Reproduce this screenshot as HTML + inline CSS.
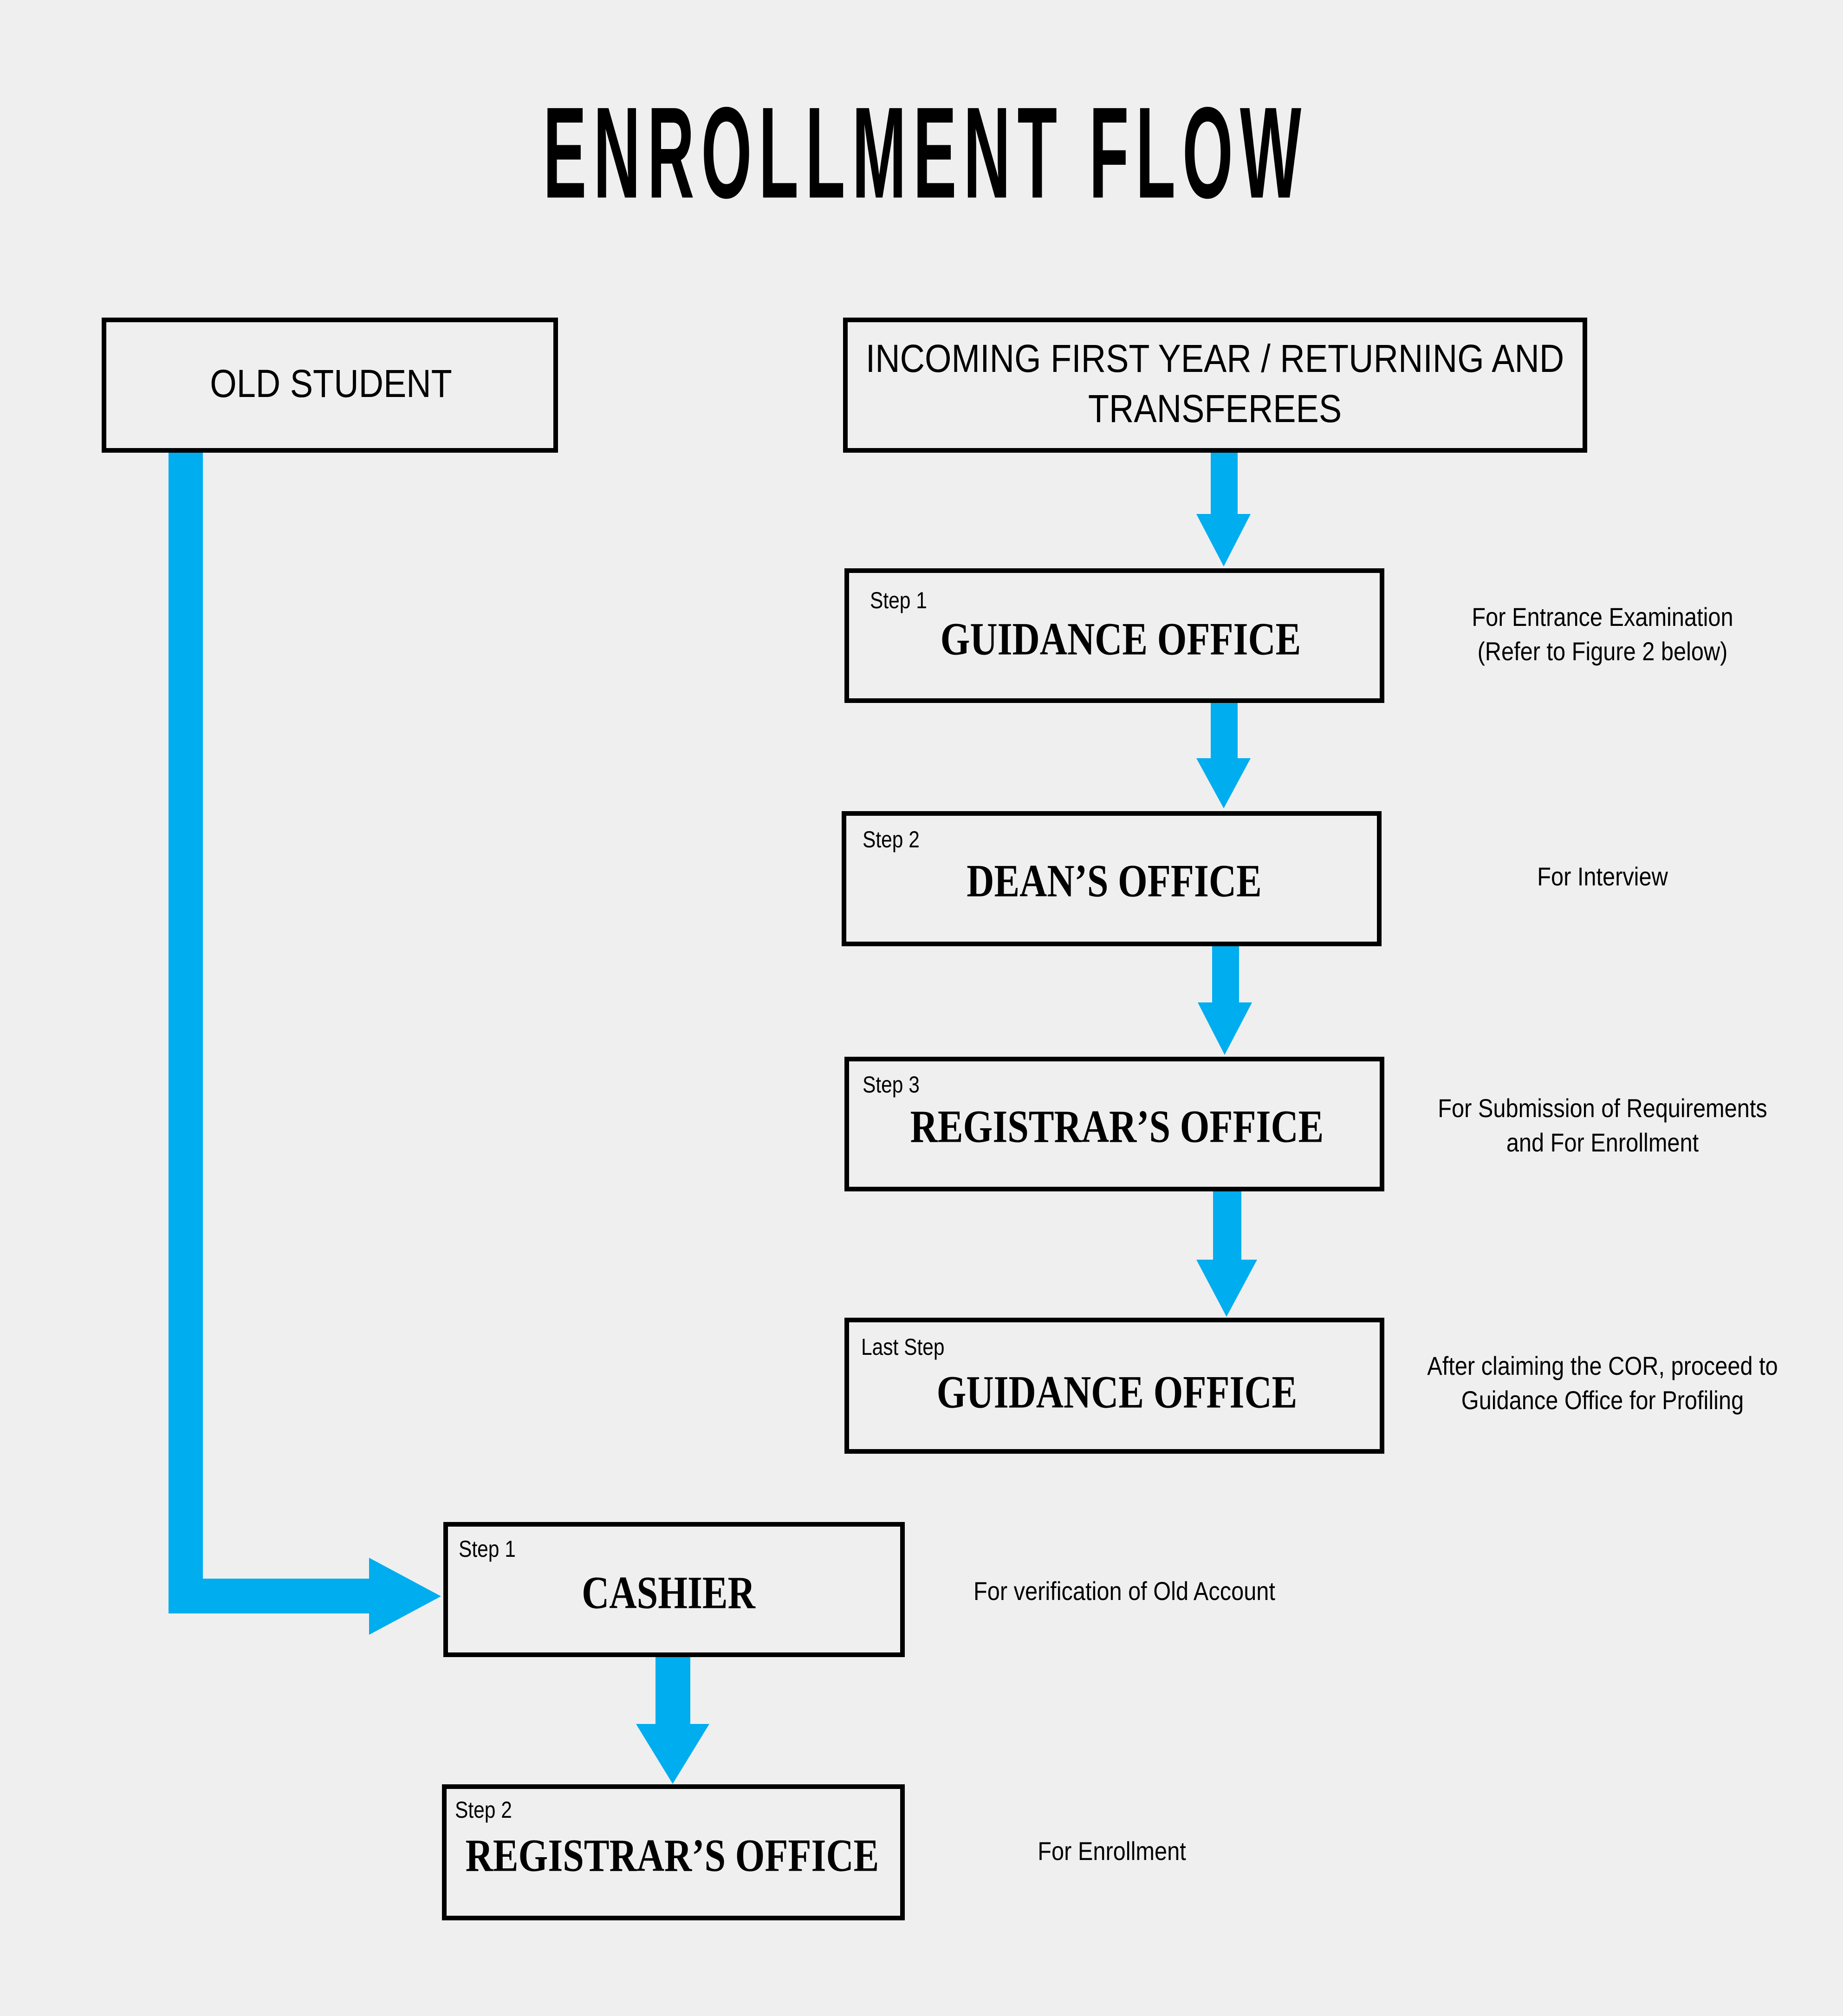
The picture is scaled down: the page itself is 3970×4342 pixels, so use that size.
<!DOCTYPE html>
<html><head><meta charset="utf-8"><style>
body{margin:0;width:3970px;height:4342px;background:#efefef;position:relative;overflow:hidden;font-family:"Liberation Sans",sans-serif;}
.box{position:absolute;border:10px solid #000;box-sizing:border-box;}
.t{position:absolute;transform:translate(-50%,-50%) scaleX(0.88);white-space:nowrap;text-align:center;color:#000;}
.n{font-size:84px;line-height:108px;}
.b{font-family:"Liberation Serif",serif;font-weight:bold;font-size:100px;transform:translate(-50%,-50%) scaleX(0.82);}
.s{position:absolute;font-size:50px;white-space:nowrap;transform:scaleX(0.85);transform-origin:left top;}
.side{font-size:56px;line-height:74px;transform:translate(-50%,-50%) scaleX(0.87);}
</style></head><body>
<div class="t" style="left:1994px;top:330px;font-size:280px;font-weight:bold;letter-spacing:30px;transform:translate(-50%,-50%) scaleX(0.5);">ENROLLMENT FLOW</div>

<svg width="3970" height="4342" style="position:absolute;left:0;top:0">
<g fill="#00adef">
<rect x="363" y="975" width="74" height="2500"/>
<rect x="363" y="3400" width="435" height="75"/>
<polygon points="795,3355 950,3438 795,3521"/>
<rect x="2608" y="975" width="58" height="134"/>
<polygon points="2577,1107 2694,1107 2636,1220"/>
<rect x="2608" y="1514" width="58" height="121"/>
<polygon points="2577,1633 2694,1633 2636,1741"/>
<rect x="2611" y="2038" width="58" height="123"/>
<polygon points="2580,2159 2697,2159 2638,2272"/>
<rect x="2613" y="2566" width="61" height="149"/>
<polygon points="2577,2713 2708,2713 2642,2836"/>
<rect x="1412" y="3569" width="75" height="146"/>
<polygon points="1370,3713 1528,3713 1449,3842"/>
</g></svg>

<div class="box" style="left:219px;top:684px;width:983px;height:291px"></div>
<div class="t n" style="left:713px;top:826px">OLD STUDENT</div>

<div class="box" style="left:1816px;top:684px;width:1603px;height:291px"></div>
<div class="t n" style="left:2617px;top:826px">INCOMING FIRST YEAR / RETURNING AND<br>TRANSFEREES</div>

<div class="box" style="left:1819px;top:1224px;width:1163px;height:290px"></div>
<div class="s" style="left:1874px;top:1264px">Step 1</div>
<div class="t b" style="left:2414px;top:1376px">GUIDANCE OFFICE</div>
<div class="t side" style="left:3452px;top:1366px">For Entrance Examination<br>(Refer to Figure 2 below)</div>

<div class="box" style="left:1813px;top:1747px;width:1163px;height:291px"></div>
<div class="s" style="left:1858px;top:1779px">Step 2</div>
<div class="t b" style="left:2400px;top:1897px">DEAN’S OFFICE</div>
<div class="t side" style="left:3452px;top:1888px">For Interview</div>

<div class="box" style="left:1819px;top:2276px;width:1163px;height:290px"></div>
<div class="s" style="left:1858px;top:2307px">Step 3</div>
<div class="t b" style="left:2406px;top:2426px">REGISTRAR’S OFFICE</div>
<div class="t side" style="left:3452px;top:2424px">For Submission of Requirements<br>and For Enrollment</div>

<div class="box" style="left:1819px;top:2838px;width:1163px;height:293px"></div>
<div class="s" style="left:1855px;top:2872px">Last Step</div>
<div class="t b" style="left:2406px;top:2998px">GUIDANCE OFFICE</div>
<div class="t side" style="left:3452px;top:2979px">After claiming the COR, proceed to<br>Guidance Office for Profiling</div>

<div class="box" style="left:955px;top:3278px;width:994px;height:291px"></div>
<div class="s" style="left:988px;top:3307px">Step 1</div>
<div class="t b" style="left:1440px;top:3430px">CASHIER</div>
<div class="t side" style="left:2422px;top:3427px">For verification of Old Account</div>

<div class="box" style="left:952px;top:3843px;width:997px;height:293px"></div>
<div class="s" style="left:980px;top:3869px">Step 2</div>
<div class="t b" style="left:1448px;top:3996px">REGISTRAR’S OFFICE</div>
<div class="t side" style="left:2395px;top:3987px">For Enrollment</div>
</body></html>
